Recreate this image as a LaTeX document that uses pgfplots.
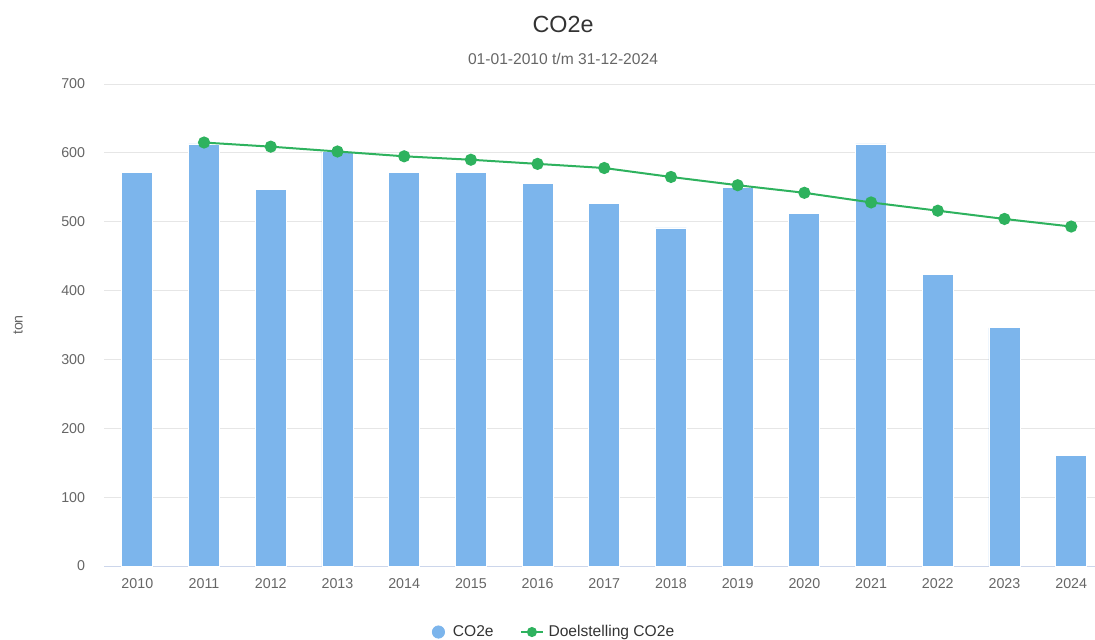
\documentclass[border=0pt]{standalone}
\usepackage{pgfplots}
\pgfplotsset{compat=1.18}
\usepackage{fontspec}
\setmainfont{Liberation Sans}
\definecolor{barblue}{HTML}{7CB5EC}
\definecolor{goalgreen}{HTML}{2EB25E}
\definecolor{gridgray}{HTML}{E6E6E6}
\definecolor{axisline}{HTML}{CCD6EB}
\definecolor{ticktext}{HTML}{666666}
\definecolor{titletext}{HTML}{333333}
\begin{document}
\begin{tikzpicture}
\useasboundingbox (0,0) rectangle (821.25pt,479.25pt);
\begin{axis}[
  at={(78pt,54.75pt)}, anchor=south west,
  scale only axis, width=743.25pt, height=361.5pt,
  xmin=-0.5, xmax=14.357, ymin=0, ymax=700,
  xtick={0,...,14},
  xticklabels={2010,2011,2012,2013,2014,2015,2016,2017,2018,2019,2020,2021,2022,2023,2024},
  ytick={0,100,...,700},
  /pgf/number format/assume math mode=true,
  major tick length=0pt,
  tick style={draw=none},
  ymajorgrids, grid style={gridgray, line width=0.75pt},
  axis x line*=bottom, axis y line*=left,
  x axis line style={axisline, line width=0.75pt, -},
  y axis line style={draw=none},
  tick label style={font=\fontsize{10.7}{12}\selectfont, text=ticktext},
  xticklabel style={inner sep=0pt, anchor=north, yshift=-9.5pt},
  yticklabel style={inner sep=0pt, anchor=east, xshift=-14pt},
  legend style={draw=none, fill=none, at={(0.4545,-0.137)}, anchor=center,
    font=\fontsize{11.7}{13}\selectfont, text=titletext,
    /tikz/every even column/.append style={column sep=18pt}},
  legend columns=2,
  clip=true,
]
\addplot[ybar, bar width=23.25pt, bar shift=0pt, fill=barblue, draw=white, line width=0.6pt,
  legend image code/.code={\fill[barblue] (0.15cm,0cm) circle (4.6pt); \path (0.45cm,0cm);}]
  coordinates {(0,571) (1,613) (2,547) (3,602) (4,571) (5,571) (6,555) (7,526) (8,491) (9,550) (10,512) (11,613) (12,423) (13,346) (14,160)};
\addlegendentry{CO2e}
\addplot[goalgreen, line width=1.5pt, mark=*, mark size=3.8pt, mark options={solid, fill=goalgreen, draw=goalgreen},
  legend image code/.code={\draw[goalgreen, line width=1.5pt] (0cm,0cm) -- (0.56cm,0cm);
    \fill[goalgreen] (0.28cm,0cm) circle (3pt); \path (0.62cm,0cm);}]
  coordinates {(1,615) (2,609) (3,602) (4,595) (5,590) (6,584) (7,578) (8,565) (9,553) (10,542) (11,528) (12,516) (13,504) (14,493)};
\addlegendentry{Doelstelling CO2e}
\end{axis}
\node[anchor=base, text=titletext, font=\fontsize{17.5}{20}\selectfont] at (422.25pt,454.5pt) {CO2e};
\node[anchor=base, text=ticktext, font=\fontsize{11.7}{13}\selectfont] at (422.25pt,430.5pt) {01-01-2010 t/m 31-12-2024};
\node[rotate=90, text=ticktext, font=\fontsize{10.7}{12}\selectfont] at (13.5pt,235.5pt) {ton};
\end{tikzpicture}
\end{document}
